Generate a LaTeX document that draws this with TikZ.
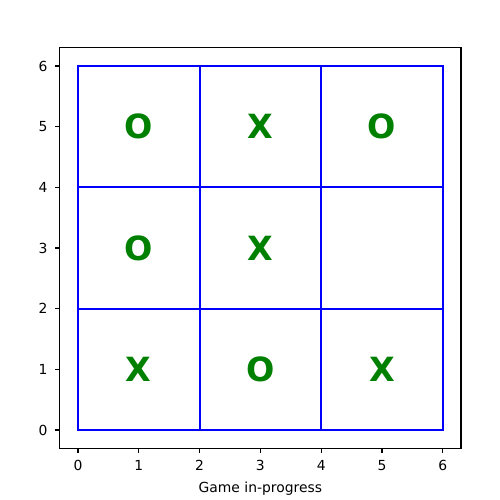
\documentclass[tikz,border=0pt]{standalone}
\usepackage{fontspec}
\setmainfont{DejaVu Sans}
\definecolor{mplgreen}{HTML}{008000}
\definecolor{mplblue}{HTML}{0000FF}

\begin{document}
\begin{tikzpicture}[x=43.8pt,y=43.7pt,
  tick/.style={line width=0.8pt},
  ticklbl/.style={font=\fontsize{10}{12}\selectfont,inner sep=0pt},
  board/.style={mplblue,line width=1.5pt},
  movelbl/.style={mplgreen,font=\fontsize{24}{28}\selectfont\bfseries}]
\useasboundingbox (-1.282,-1.154) rectangle (6.937,7.088);
% axes frame
\draw[line width=0.8pt] (-0.3,-0.3) rectangle (6.3,6.3);
\foreach \t in {0,...,6}{
  \draw[tick] (\t,-0.3) -- ++(0,-3.5pt) node[ticklbl,below=4.9pt] (xt\t) {\t};
  \draw[tick] (-0.3,\t) -- ++(-3.5pt,0) node[ticklbl,left=4.9pt] (yt\t) {\t};
}
\node[ticklbl,anchor=north] (xlabel) at (3,-0.86) {Game in-progress};
% board
\draw[board] (0,0) rectangle (6,6);
\foreach \g in {2,4}{
  \draw[board] (\g,0) -- (\g,6);
  \draw[board] (0,\g) -- (6,\g);
}
% moves
\foreach \c/\r/\m in {1/5/O,3/5/X,5/5/O,1/3/O,3/3/X,1/1/X,3/1/O,5/1/X}
  \node[movelbl] (cell\c\r) at (\c,\r) {\m};
\end{tikzpicture}
\end{document}
